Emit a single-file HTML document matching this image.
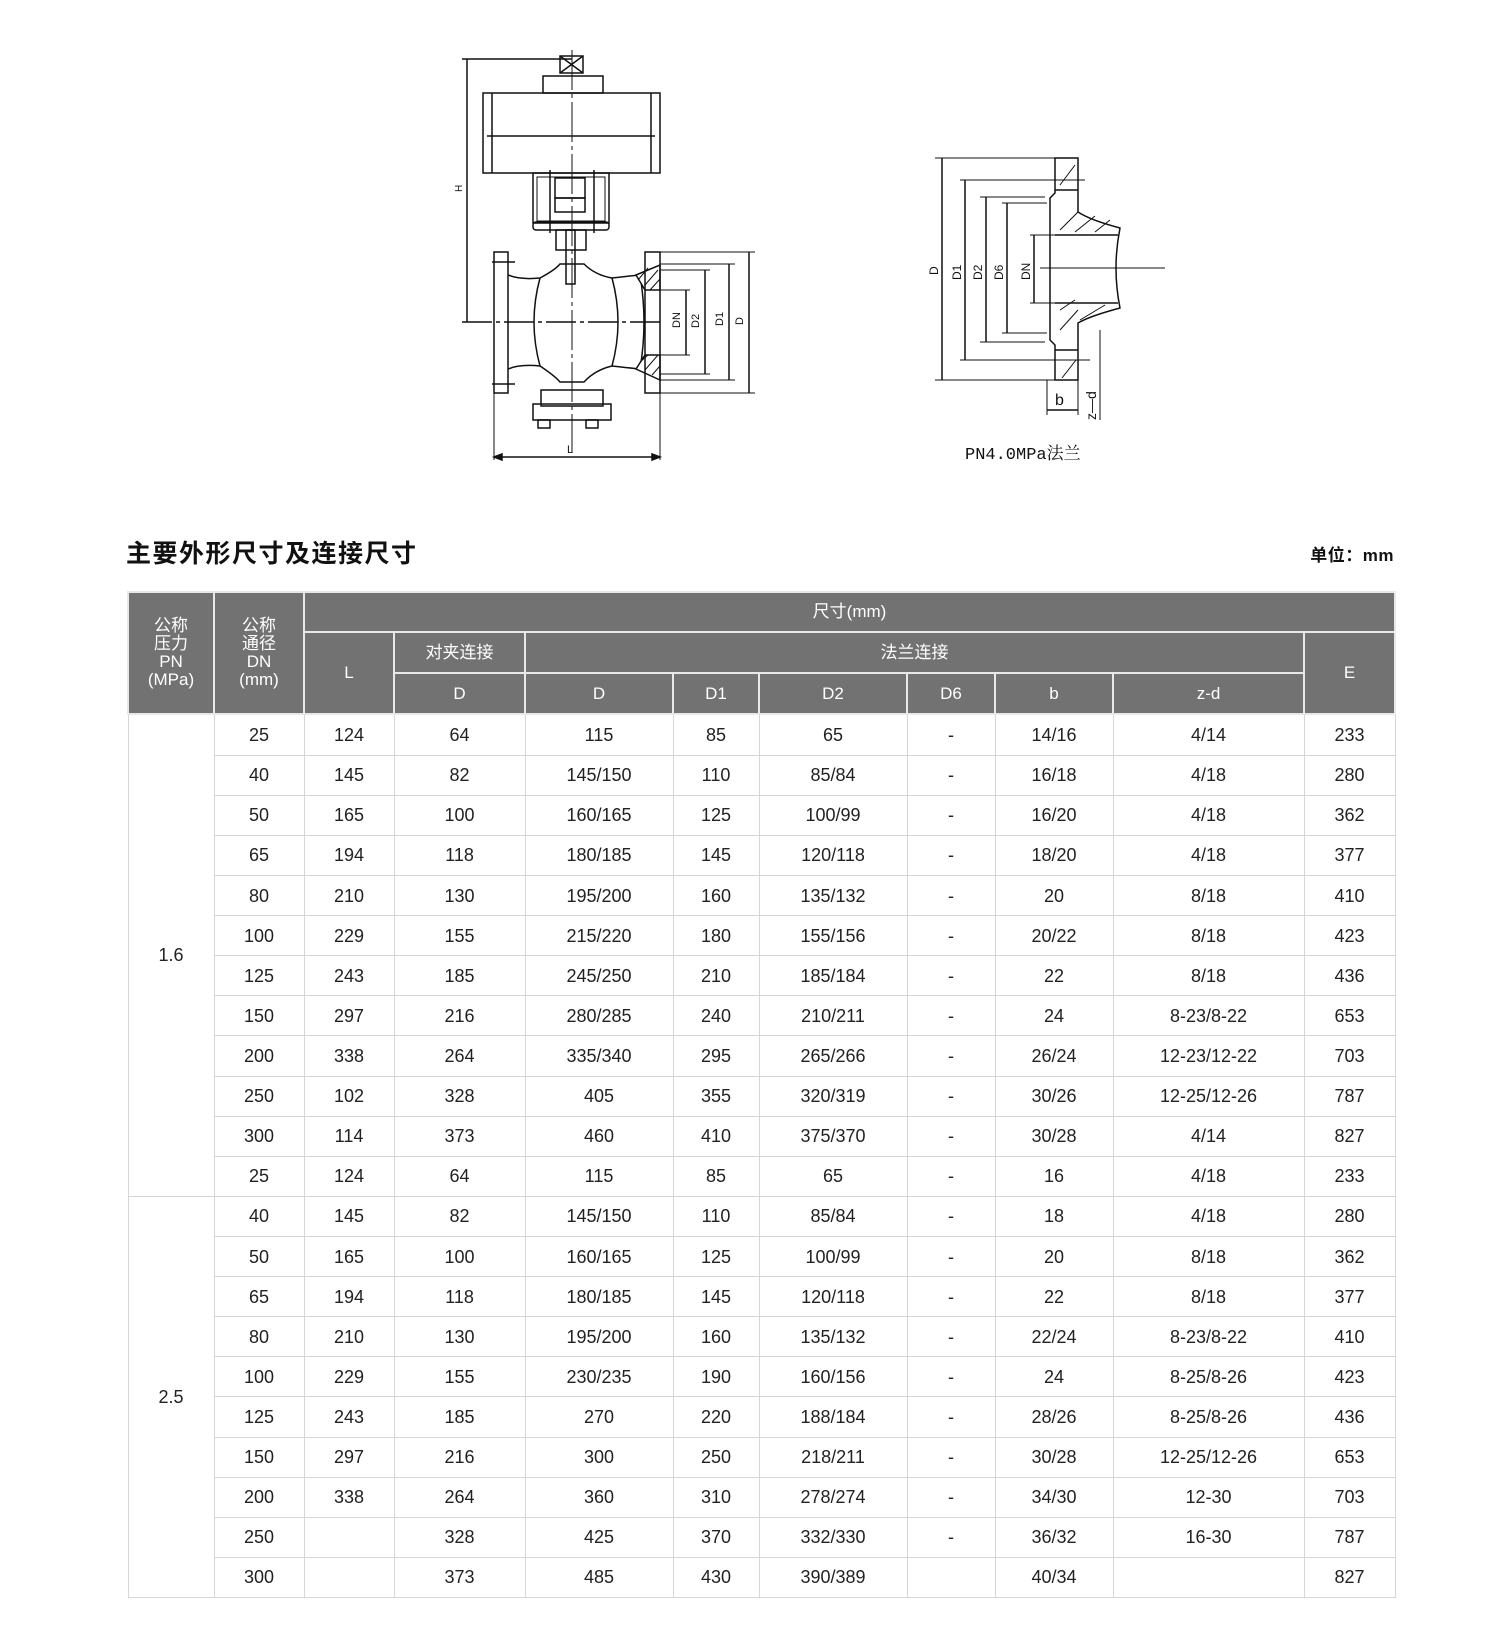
<!DOCTYPE html>
<html><head><meta charset="utf-8"><style>
body{margin:0;background:#fff;width:1500px;height:1636px;position:relative;overflow:hidden;font-family:"Liberation Sans","Noto Sans CJK SC",sans-serif;}
#title{position:absolute;left:126px;top:534px;font-size:25px;font-weight:bold;color:#111;letter-spacing:1.5px}
#unit{position:absolute;right:106px;top:541px;font-size:17px;font-weight:bold;color:#111;letter-spacing:0.5px}
table{position:absolute;left:127px;top:591px;border-collapse:collapse;table-layout:fixed;width:1267px;height:1007px}
td{text-align:center;font-size:18px;color:#222;border:1px solid #d6d6d6;padding:0;line-height:18px}
th{background:#727272;color:#fff;font-weight:normal;font-size:17px;border:2px solid #e8e8e8;padding:0;line-height:18px}
</style></head><body>
<svg width="1500" height="480" style="position:absolute;left:0;top:0" fill="none" stroke="#111" stroke-width="1.5" font-family="Liberation Sans,sans-serif">
<line x1="467" y1="59" x2="467" y2="322"/><line x1="462" y1="59" x2="572" y2="59"/>
<line x1="462" y1="322" x2="660" y2="322" stroke-dasharray="30 4 4 4"/>
<text x="462" y="192" font-size="10" fill="#111" stroke="none" transform="rotate(-90 462 192)">H</text>
<rect x="560" y="56" width="23" height="17"/><line x1="560" y1="56" x2="583" y2="73"/><line x1="583" y1="56" x2="560" y2="73"/>
<rect x="543" y="76" width="60" height="17"/>
<rect x="483" y="93" width="177" height="80"/>
<line x1="492" y1="93" x2="492" y2="173"/><line x1="651" y1="93" x2="651" y2="173"/>
<line x1="487" y1="136" x2="655" y2="136"/>
<rect x="533" y="173" width="76" height="50"/><rect x="537" y="177" width="68" height="44" stroke-width="1"/>
<rect x="533" y="222" width="76" height="8" rx="3"/>
<rect x="555" y="178" width="30" height="20"/><rect x="555" y="198" width="30" height="14"/>
<line x1="550" y1="170" x2="550" y2="233"/><line x1="594" y1="170" x2="594" y2="233"/>
<rect x="556" y="230" width="30" height="20"/><rect x="566" y="230" width="9" height="54"/>
<line x1="572" y1="50" x2="572" y2="452" stroke-dasharray="40 4 4 4" stroke-width="1"/>
<rect x="494" y="252" width="14" height="141"/>
<line x1="492" y1="262" x2="515" y2="262"/><line x1="492" y1="384" x2="515" y2="384"/>
<path d="M508 275 Q520 280 540 278 Q555 270 560 264 L584 264 Q595 275 612 278 Q630 276 640 275"/>
<path d="M508 369 Q520 364 540 366 Q555 376 560 382 L584 382 Q595 370 612 366 Q630 368 640 369"/>
<path d="M540 278 Q528 322 540 366"/><path d="M612 278 Q624 322 612 366"/>
<path d="M640 275 Q648 322 640 369"/>
<path d="M636 275 L660 265 L660 290 L645 290 Z M636 369 L645 355 L660 355 L660 380 Z" fill="#fff"/>
<path d="M638 280l10-12M645 285l13-15M650 290l10-11M640 362l8-7M645 370l13-15M652 375l8-9" stroke-width="1"/>
<rect x="645" y="252" width="15" height="141"/>
<rect x="541" y="390" width="62" height="16"/><rect x="533" y="404" width="78" height="16"/>
<rect x="538" y="420" width="12" height="8"/><rect x="586" y="420" width="12" height="8"/>
<line x1="494" y1="393" x2="494" y2="460" stroke-width="1"/><line x1="660" y1="393" x2="660" y2="460" stroke-width="1"/>
<line x1="494" y1="457" x2="660" y2="457"/><path d="M494 457l8-3v6zM660 457l-8-3v6z" fill="#111"/>
<text x="567" y="453" font-size="11" fill="#111" stroke="none">L</text>
<g stroke-width="1"><line x1="660" y1="252" x2="755" y2="252"/><line x1="660" y1="393" x2="755" y2="393"/>
<line x1="660" y1="264" x2="735" y2="264"/><line x1="660" y1="380" x2="735" y2="380"/>
<line x1="660" y1="270" x2="710" y2="270"/><line x1="660" y1="374" x2="710" y2="374"/>
<line x1="660" y1="290" x2="690" y2="290"/><line x1="660" y1="355" x2="690" y2="355"/></g>
<line x1="749" y1="252" x2="749" y2="393"/><line x1="729" y1="264" x2="729" y2="380"/><line x1="705" y1="270" x2="705" y2="374"/><line x1="686" y1="290" x2="686" y2="355"/>
<g font-size="11" fill="#111" stroke="none"><text transform="translate(680 328) rotate(-90)">DN</text><text transform="translate(699 328) rotate(-90)">D2</text><text transform="translate(723 326) rotate(-90)">D1</text><text transform="translate(743 325) rotate(-90)">D</text></g>
<g stroke-width="1"><line x1="935" y1="158" x2="1078" y2="158"/><line x1="935" y1="380" x2="1078" y2="380"/>
<line x1="960" y1="180" x2="1085" y2="180"/><line x1="960" y1="360" x2="1090" y2="360"/>
<line x1="980" y1="197" x2="1045" y2="197"/><line x1="980" y1="342" x2="1045" y2="342"/>
<line x1="1002" y1="203" x2="1047" y2="203"/><line x1="1002" y1="333" x2="1047" y2="333"/>
<line x1="1030" y1="235" x2="1055" y2="235"/><line x1="1030" y1="303" x2="1055" y2="303"/>
<line x1="1040" y1="268" x2="1165" y2="268"/></g>
<line x1="942" y1="158" x2="942" y2="380"/><line x1="965" y1="180" x2="965" y2="360"/><line x1="986" y1="197" x2="986" y2="342"/><line x1="1007" y1="203" x2="1007" y2="333"/><line x1="1034" y1="235" x2="1034" y2="303"/>
<g font-size="12" fill="#111" stroke="none"><text transform="translate(938 275) rotate(-90)">D</text><text transform="translate(961 280) rotate(-90)">D1</text><text transform="translate(982 280) rotate(-90)">D2</text><text transform="translate(1003 280) rotate(-90)">D6</text><text transform="translate(1030 280) rotate(-90)">DN</text></g>
<path d="M1055 158 H1078 V212 Q1090 220 1120 228 Q1112 268 1120 308 Q1090 316 1078 323 V380 H1055 V345 L1050 340 V198 L1055 193 Z"/>
<line x1="1055" y1="235" x2="1118" y2="235"/><line x1="1055" y1="303" x2="1118" y2="303"/>
<line x1="1055" y1="190" x2="1078" y2="190"/><line x1="1055" y1="350" x2="1078" y2="350"/>
<path d="M1060 185l15-20M1060 230l18-18M1075 232l20-16M1095 232l15-12M1060 310l15-10M1060 330l18-20M1080 320l25-15M1062 378l14-18" stroke-width="1"/>
<line x1="1047" y1="380" x2="1047" y2="415" stroke-width="1"/><line x1="1078" y1="380" x2="1078" y2="415" stroke-width="1"/>
<line x1="1047" y1="410" x2="1078" y2="410"/><text x="1055" y="405" font-size="16" fill="#111" stroke="none">b</text>
<line x1="1100" y1="330" x2="1100" y2="420" stroke-width="1"/>
<text transform="translate(1096 420) rotate(-90)" font-size="14" fill="#111" stroke="none">z—d</text>
<text x="965" y="459" font-size="17" fill="#111" stroke="none" font-family="Liberation Mono,Noto Serif CJK SC,serif">PN4.0MPa法兰</text>
</svg>
<div id="title">主要外形尺寸及连接尺寸</div>
<div id="unit">单位：mm</div>
<table>
<colgroup><col style="width:86px"><col style="width:90px"><col style="width:90px"><col style="width:131px"><col style="width:148px"><col style="width:86px"><col style="width:148px"><col style="width:88px"><col style="width:118px"><col style="width:191px"><col style="width:91px"></colgroup>
<tr style="height:40px"><th rowspan="3">公称<br>压力<br>PN<br>(MPa)</th><th rowspan="3">公称<br>通径<br>DN<br>(mm)</th><th colspan="9">尺寸(mm)</th></tr>
<tr style="height:41px"><th rowspan="2">L</th><th>对夹连接</th><th colspan="6">法兰连接</th><th rowspan="2">E</th></tr>
<tr style="height:41px"><th>D</th><th>D</th><th>D1</th><th>D2</th><th>D6</th><th>b</th><th>z-d</th></tr>
<tr><td rowspan="12">1.6</td><td>25</td><td>124</td><td>64</td><td>115</td><td>85</td><td>65</td><td>-</td><td>14/16</td><td>4/14</td><td>233</td></tr>
<tr><td>40</td><td>145</td><td>82</td><td>145/150</td><td>110</td><td>85/84</td><td>-</td><td>16/18</td><td>4/18</td><td>280</td></tr>
<tr><td>50</td><td>165</td><td>100</td><td>160/165</td><td>125</td><td>100/99</td><td>-</td><td>16/20</td><td>4/18</td><td>362</td></tr>
<tr><td>65</td><td>194</td><td>118</td><td>180/185</td><td>145</td><td>120/118</td><td>-</td><td>18/20</td><td>4/18</td><td>377</td></tr>
<tr><td>80</td><td>210</td><td>130</td><td>195/200</td><td>160</td><td>135/132</td><td>-</td><td>20</td><td>8/18</td><td>410</td></tr>
<tr><td>100</td><td>229</td><td>155</td><td>215/220</td><td>180</td><td>155/156</td><td>-</td><td>20/22</td><td>8/18</td><td>423</td></tr>
<tr><td>125</td><td>243</td><td>185</td><td>245/250</td><td>210</td><td>185/184</td><td>-</td><td>22</td><td>8/18</td><td>436</td></tr>
<tr><td>150</td><td>297</td><td>216</td><td>280/285</td><td>240</td><td>210/211</td><td>-</td><td>24</td><td>8-23/8-22</td><td>653</td></tr>
<tr><td>200</td><td>338</td><td>264</td><td>335/340</td><td>295</td><td>265/266</td><td>-</td><td>26/24</td><td>12-23/12-22</td><td>703</td></tr>
<tr><td>250</td><td>102</td><td>328</td><td>405</td><td>355</td><td>320/319</td><td>-</td><td>30/26</td><td>12-25/12-26</td><td>787</td></tr>
<tr><td>300</td><td>114</td><td>373</td><td>460</td><td>410</td><td>375/370</td><td>-</td><td>30/28</td><td>4/14</td><td>827</td></tr>
<tr><td>25</td><td>124</td><td>64</td><td>115</td><td>85</td><td>65</td><td>-</td><td>16</td><td>4/18</td><td>233</td></tr>
<tr><td rowspan="11">2.5</td><td>40</td><td>145</td><td>82</td><td>145/150</td><td>110</td><td>85/84</td><td>-</td><td>18</td><td>4/18</td><td>280</td></tr>
<tr><td>50</td><td>165</td><td>100</td><td>160/165</td><td>125</td><td>100/99</td><td>-</td><td>20</td><td>8/18</td><td>362</td></tr>
<tr><td>65</td><td>194</td><td>118</td><td>180/185</td><td>145</td><td>120/118</td><td>-</td><td>22</td><td>8/18</td><td>377</td></tr>
<tr><td>80</td><td>210</td><td>130</td><td>195/200</td><td>160</td><td>135/132</td><td>-</td><td>22/24</td><td>8-23/8-22</td><td>410</td></tr>
<tr><td>100</td><td>229</td><td>155</td><td>230/235</td><td>190</td><td>160/156</td><td>-</td><td>24</td><td>8-25/8-26</td><td>423</td></tr>
<tr><td>125</td><td>243</td><td>185</td><td>270</td><td>220</td><td>188/184</td><td>-</td><td>28/26</td><td>8-25/8-26</td><td>436</td></tr>
<tr><td>150</td><td>297</td><td>216</td><td>300</td><td>250</td><td>218/211</td><td>-</td><td>30/28</td><td>12-25/12-26</td><td>653</td></tr>
<tr><td>200</td><td>338</td><td>264</td><td>360</td><td>310</td><td>278/274</td><td>-</td><td>34/30</td><td>12-30</td><td>703</td></tr>
<tr><td>250</td><td></td><td>328</td><td>425</td><td>370</td><td>332/330</td><td>-</td><td>36/32</td><td>16-30</td><td>787</td></tr>
<tr><td>300</td><td></td><td>373</td><td>485</td><td>430</td><td>390/389</td><td></td><td>40/34</td><td></td><td>827</td></tr>
</table>
</body></html>
